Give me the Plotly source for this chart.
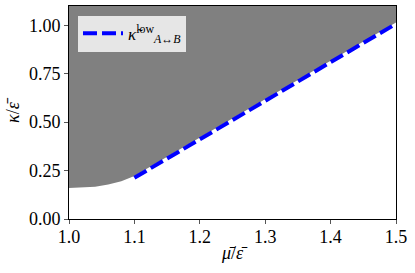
import plotly.graph_objects as go

# boundary of the shaded region
boundary_x = [1.0, 1.02, 1.04, 1.06, 1.08, 1.10, 1.12, 1.15, 1.20, 1.25, 1.30, 1.35, 1.40, 1.45, 1.50]
boundary_y = [0.160, 0.162, 0.167, 0.178, 0.195, 0.222, 0.262, 0.322, 0.420, 0.520, 0.620, 0.718, 0.817, 0.916, 1.015]

# dashed approximation line
low_x = [1.1, 1.2, 1.3, 1.4, 1.5]
low_y = [0.213, 0.410, 0.610, 0.810, 1.008]

x_ticks = [1.0, 1.1, 1.2, 1.3, 1.4, 1.5]
y_ticks = [0.0, 0.25, 0.5, 0.75, 1.0]
X_RANGE = [1.0, 1.5]
Y_RANGE = [0.0, 1.1]

FONT = "Times New Roman, Liberation Serif, serif"

fig = go.Figure()
fig.add_trace(go.Scatter(x=boundary_x, y=boundary_y, mode="lines",
                         line=dict(width=0, color="#808080"), showlegend=False,
                         hoverinfo="skip"))
fig.add_trace(go.Scatter(x=boundary_x, y=[Y_RANGE[1]] * len(boundary_x), mode="lines",
                         line=dict(width=0, color="#808080"), fill="tonexty",
                         fillcolor="#808080", showlegend=False, hoverinfo="skip"))
fig.add_trace(go.Scatter(x=low_x, y=low_y, mode="lines",
                         line=dict(color="#0000ff", width=4, dash="14px,5px"),
                         name="<i>κ̃</i><sup>low</sup><sub><i>A</i>↔<i>B</i></sub>"))

fig.update_layout(
    width=415, height=273,
    margin=dict(l=69, r=19, t=6, b=54),
    paper_bgcolor="white", plot_bgcolor="white",
    font=dict(family=FONT, size=18, color="black"),
    legend=dict(x=0.0275, y=0.955, xanchor="left", yanchor="top",
                bgcolor="#e6e6e6", bordercolor="#e6e6e6", borderwidth=0,
                font=dict(family=FONT, size=17), itemwidth=40,
                tracegroupgap=0),
    xaxis=dict(range=X_RANGE, tickvals=x_ticks, tickformat=".1f",
               showgrid=False, zeroline=False, showline=True, linecolor="black",
               linewidth=1, mirror=True, ticks="outside", ticklen=4, tickcolor="#555",
               ticklabelstandoff=-3, tickfont=dict(family=FONT, size=18),
               title=dict(text="<i>μ̄</i>/<i>ε̄</i>", font=dict(family=FONT, size=18), standoff=0)),
    yaxis=dict(range=Y_RANGE, tickvals=y_ticks, tickformat=".2f",
               showgrid=False, zeroline=False, showline=True, linecolor="black",
               linewidth=1, mirror=True, ticks="outside", ticklen=4, tickcolor="#555",
               tickfont=dict(family=FONT, size=18),
               title=dict(text="<i>κ</i>/<i>ε̄</i>", font=dict(family=FONT, size=18), standoff=4)),
)

fig.write_html("out.html", config={"displayModeBar": False},
               post_script="document.body.style.margin='0';document.body.style.padding='0';")
